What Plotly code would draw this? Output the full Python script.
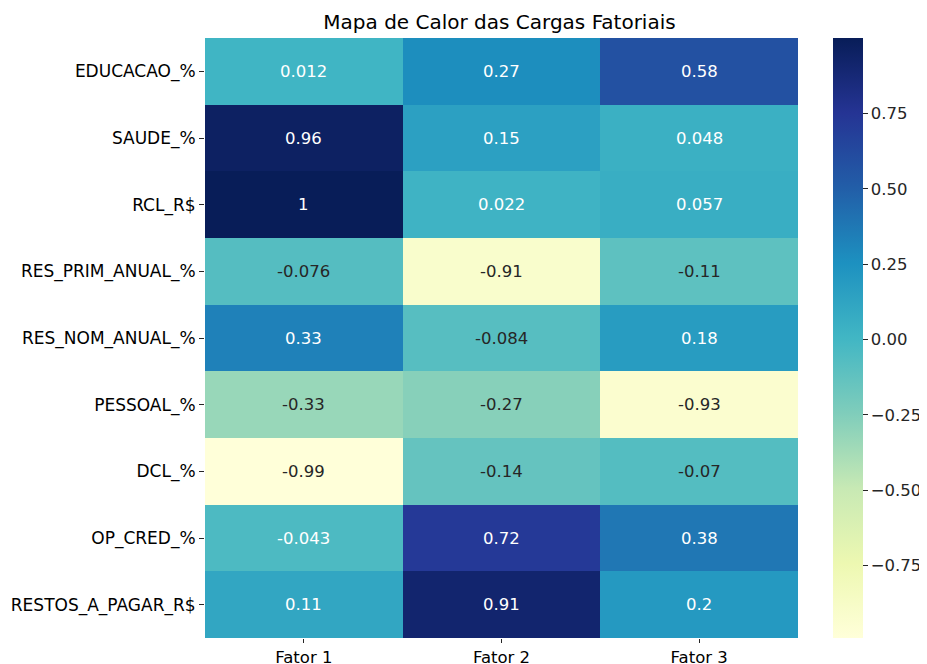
import plotly.graph_objects as go

factors = ["Fator 1", "Fator 2", "Fator 3"]
variables = ["EDUCACAO_%", "SAUDE_%", "RCL_R$", "RES_PRIM_ANUAL_%", "RES_NOM_ANUAL_%",
             "PESSOAL_%", "DCL_%", "OP_CRED_%", "RESTOS_A_PAGAR_R$"]
fator1 = [0.012, 0.96, 1.0, -0.076, 0.33, -0.33, -0.99, -0.043, 0.11]
fator2 = [0.27, 0.15, 0.022, -0.91, -0.084, -0.27, -0.14, 0.72, 0.91]
fator3 = [0.58, 0.048, 0.057, -0.11, 0.18, -0.93, -0.07, 0.38, 0.2]
cbar_ticks = [-0.75, -0.5, -0.25, 0.0, 0.25, 0.5, 0.75]

ylgnbu = ["#ffffd9", "#edf8b1", "#c7e9b4", "#7fcdbb", "#41b6c4",
          "#1d91c0", "#225ea8", "#253494", "#081d58"]
colorscale = [[i / (len(ylgnbu) - 1), c] for i, c in enumerate(ylgnbu)]

z = [[a, b, c] for a, b, c in zip(fator1, fator2, fator3)]
zmin = min(min(r) for r in z)
zmax = max(max(r) for r in z)

FONT = "DejaVu Sans"
FS = 16.5


def hex2rgb(h):
    h = h.lstrip("#")
    return [int(h[i:i + 2], 16) / 255 for i in (0, 2, 4)]


def cmap(v):
    t = (v - zmin) / (zmax - zmin)
    t = max(0, min(1, t))
    pos = t * (len(ylgnbu) - 1)
    i = min(int(pos), len(ylgnbu) - 2)
    f = pos - i
    c0, c1 = hex2rgb(ylgnbu[i]), hex2rgb(ylgnbu[i + 1])
    return [c0[k] + (c1[k] - c0[k]) * f for k in range(3)]


def luminance(rgb):
    out = []
    for c in rgb:
        out.append(c / 12.92 if c <= 0.03928 else ((c + 0.055) / 1.055) ** 2.4)
    return 0.2126 * out[0] + 0.7152 * out[1] + 0.0722 * out[2]


# page offset of 8px (browser body margin)
OFF = 8
L, R, T, B = 205 - OFF, 798 - OFF, 38 - OFF, 638 - OFF
W, H = 927 - OFF, 664 - OFF
CBX = 833 - OFF

fig = go.Figure()
fig.add_trace(go.Heatmap(
    z=z, x=factors, y=variables, colorscale=colorscale, zmin=zmin, zmax=zmax,
    xgap=0, ygap=0, hoverinfo="skip",
    colorbar=dict(
        x=(CBX - L) / (R - L), xanchor="left", xref="paper", y=0.5, yanchor="middle",
        lenmode="pixels", len=B - T, thicknessmode="pixels", thickness=30,
        xpad=0, ypad=0,
        outlinewidth=0, tickvals=cbar_ticks, tickformat=".2f",
        ticks="outside", ticklen=5, tickwidth=1, tickcolor="#262626",
        tickfont=dict(family=FONT, size=FS, color="#262626"),
    ),
))

annotations = []
for i, var in enumerate(variables):
    for j, fac in enumerate(factors):
        v = z[i][j]
        col = "#262626" if luminance(cmap(v)) > 0.408 else "white"
        annotations.append(dict(
            x=fac, y=var, xref="x", yref="y", text=format(v, ".2g"),
            showarrow=False, font=dict(family=FONT, size=FS, color=col)))

fig.update_layout(
    width=W, height=H,
    margin=dict(l=L, r=W - R, t=T, b=H - B, autoexpand=False),
    paper_bgcolor="white", plot_bgcolor="white",
    title=dict(text="Mapa de Calor das Cargas Fatoriais", x=(L + R) / 2 / W - 2 / W,
               xanchor="center", y=1 - (22 - OFF) / H, yanchor="middle",
               font=dict(family=FONT, size=20, color="black")),
    annotations=annotations,
    xaxis=dict(showgrid=False, zeroline=False, ticks="outside", ticklen=4,
               tickcolor="#262626", tickfont=dict(family=FONT, size=FS, color="black")),
    yaxis=dict(showgrid=False, zeroline=False, ticks="outside", ticklen=5, autorange="reversed",
               tickcolor="#262626", tickfont=dict(family=FONT, size=17, color="black")),
)

fig.write_html("out.html")
